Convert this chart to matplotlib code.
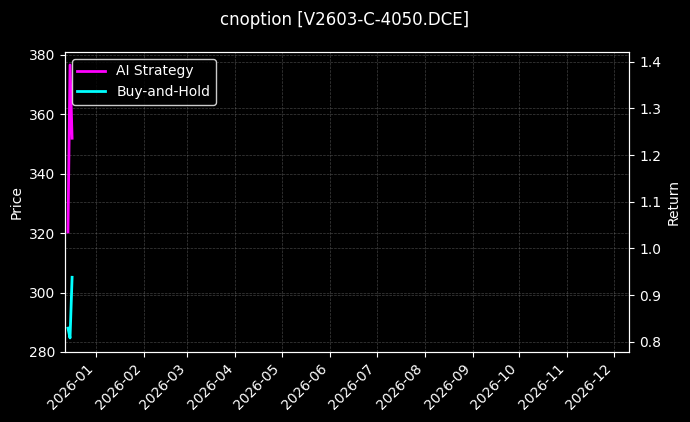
import pandas as pd
import matplotlib.pyplot as plt
import matplotlib.dates as mdates

plt.style.use('dark_background')

dates = pd.to_datetime(['2025-12-14 00:00', '2025-12-15 08:00', '2025-12-16 16:00'])
ai_strategy = [1.035, 1.393, 1.236]
buy_and_hold = [0.829, 0.808, 0.938]

fig, ax1 = plt.subplots(figsize=(6.9, 4.22), dpi=100)
fig.subplots_adjust(left=0.094, right=0.912, bottom=0.166, top=0.877)
ax2 = ax1.twinx()

ax2.plot(dates, ai_strategy, color='magenta', linewidth=2, label='AI Strategy')
ax2.plot(dates, buy_and_hold, color='cyan', linewidth=2, label='Buy-and-Hold')

ax1.set_ylim(280, 381)
ax2.set_ylim(0.778, 1.421)
ax1.set_xlim(pd.Timestamp('2025-12-12'), pd.Timestamp('2026-12-11'))
ax1.xaxis.set_major_locator(mdates.MonthLocator())
ax1.xaxis.set_major_formatter(mdates.DateFormatter('%Y-%m'))
plt.setp(ax1.get_xticklabels(), rotation=45, ha='right')

ax1.set_ylabel('Price')
ax2.set_ylabel('Return')
ax1.grid(True, color='gray', linestyle='--', linewidth=0.5, alpha=0.5)
ax2.grid(True, color='gray', linestyle='--', linewidth=0.5, alpha=0.5)

ax2.legend(loc='upper left', facecolor='black', edgecolor='white')
fig.suptitle('cnoption [V2603-C-4050.DCE]', fontsize=12, y=0.974)

plt.savefig('out.png', dpi=100)
plt.close()
